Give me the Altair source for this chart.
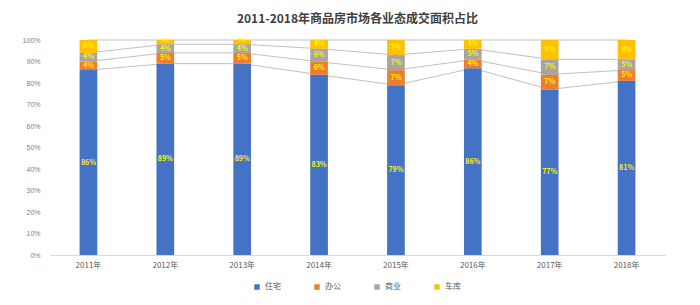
import altair as alt
import pandas as pd

years = ["2011年", "2012年", "2013年", "2014年", "2015年", "2016年", "2017年", "2018年"]
series = ["住宅", "办公", "商业", "车库"]
colors = ["#4472C4", "#ED7D31", "#A5A5A5", "#FFC000"]
residential = [86, 89, 89, 83, 79, 86, 77, 81]
office = [4, 5, 5, 6, 7, 4, 7, 5]
commercial = [4, 4, 4, 6, 7, 5, 7, 5]
garage = [6, 2, 2, 4, 7, 4, 9, 9]

rows = []
for i, y in enumerate(years):
    vals = [residential[i], office[i], commercial[i], garage[i]]
    tot = sum(vals)
    cum = 0.0
    for k, s in enumerate(series):
        start = cum / tot
        cum += vals[k]
        end = cum / tot
        rows.append({"year": y, "series": s, "order": k, "v": vals[k],
                     "y0": start, "y1": end, "mid": (start + end) / 2,
                     "label": f"{vals[k]}%"})
df = pd.DataFrame(rows)

xenc = alt.X("year:N", sort=years, title=None,
             scale=alt.Scale(paddingInner=0.77, paddingOuter=0.385),
             axis=alt.Axis(labelAngle=0, labelColor="#595959", labelFontSize=8,
                           labelFont="Noto Sans CJK SC",
                           domainColor="#D9D9D9", ticks=False, labelPadding=6))
yscale = alt.Scale(domain=[0, 1], nice=False)
yaxis = alt.Axis(format=".0%", values=[i / 10 for i in range(11)],
                 labelFontSize=7, labelColor="#7F7F7F", grid=False,
                 labelOverlap=False, domain=False, ticks=False, labelPadding=10)
color = alt.Color("series:N", sort=series,
                  scale=alt.Scale(domain=series, range=colors),
                  legend=alt.Legend(orient="none", legendX=203, legendY=243,
                                    direction="horizontal", title=None,
                                    symbolType="square", symbolSize=30, labelFontSize=8,
                                    labelColor="#595959", columnPadding=32,
                                    labelFont="Noto Sans CJK SC"))

lines = alt.Chart(df).mark_line(color="#C0C0C0", strokeWidth=1).encode(
    x=xenc,
    y=alt.Y("y1:Q", title=None, scale=yscale, axis=yaxis),
    detail="series:N",
)

bars = alt.Chart(df).mark_bar().encode(
    x=xenc,
    y=alt.Y("y0:Q", title=None, scale=yscale, axis=yaxis),
    y2="y1:Q",
    color=color,
    order="order:Q",
)

texts = alt.Chart(df).transform_filter("datum.v >= 3").mark_text(
    fontWeight="bold", color="#FFF200", fontSize=7, font="Noto Sans CJK SC").encode(
    x=xenc,
    y=alt.Y("mid:Q", title=None, scale=yscale, axis=yaxis),
    text="label:N",
)

small_texts = alt.Chart(df).transform_filter("datum.v < 3").mark_text(
    fontWeight="bold", color="#FFF200", fontSize=5, dy=-2,
    font="Noto Sans CJK SC").encode(
    x=xenc,
    y=alt.Y("mid:Q", title=None, scale=yscale, axis=yaxis),
    text="label:N",
)

chart = alt.layer(lines, bars, texts, small_texts).properties(
    width=615, height=215,
    title=alt.TitleParams("2011-2018年商品房市场各业态成交面积占比", fontSize=12,
                          fontWeight="bold", color="#404040",
                          font="Noto Sans CJK SC", offset=10),
    autosize=alt.AutoSizeParams(type="none"),
    padding={"left": 50, "top": 40, "right": 35, "bottom": 50},
).configure_view(stroke=None)

chart.save("out.html", embed_options={"renderer": "svg", "actions": False})
